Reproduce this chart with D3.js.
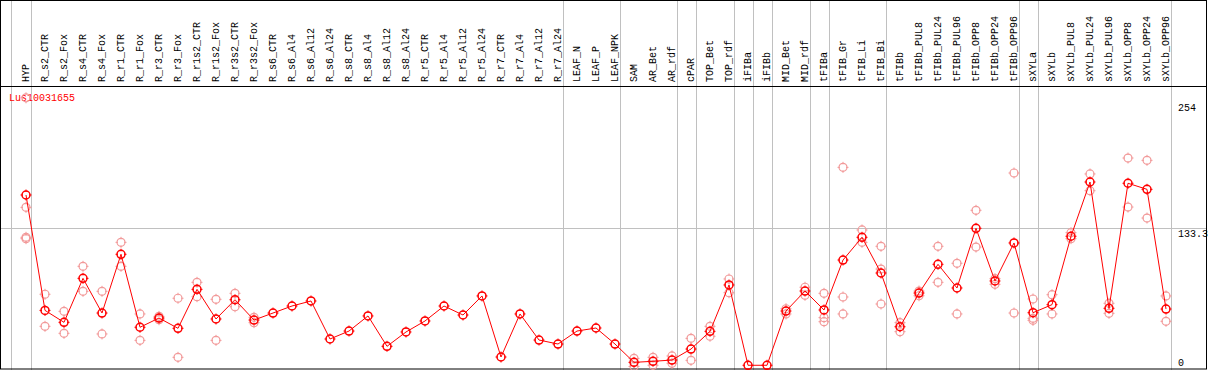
<!DOCTYPE html>
<html>
<head>
<meta charset="utf-8">
<script src="https://cdn.jsdelivr.net/npm/d3@7"></script>
<style>
  body { margin: 0; background: #fff; }
  svg text { font-family: "Liberation Mono", "DejaVu Sans Mono", monospace; font-size: 10px; }
</style>
</head>
<body>
<svg id="chart"></svg>
<script>
// sample names along the x axis
const categories = [
    'HYP', 'R_s2_CTR', 'R_s2_Fox', 'R_s4_CTR', 'R_s4_Fox', 'R_r1_CTR', 'R_r1_Fox',
    'R_r3_CTR', 'R_r3_Fox', 'R_r1s2_CTR', 'R_r1s2_Fox', 'R_r3s2_CTR', 'R_r3s2_Fox',
    'R_s6_CTR', 'R_s6_Al4', 'R_s6_Al12', 'R_s6_Al24', 'R_s8_CTR', 'R_s8_Al4',
    'R_s8_Al12', 'R_s8_Al24', 'R_r5_CTR', 'R_r5_Al4', 'R_r5_Al12', 'R_r5_Al24',
    'R_r7_CTR', 'R_r7_Al4', 'R_r7_Al12', 'R_r7_Al24', 'LEAF_N', 'LEAF_P', 'LEAF_NPK',
    'SAM', 'AR_Bet', 'AR_rdf', 'cPAR', 'TOP_Bet', 'TOP_rdf', 'iFIBa', 'iFIBb',
    'MID_Bet', 'MID_rdf', 'tFIBa', 'tFIB_Gr', 'tFIB_Li', 'tFIB_Bi', 'tFIBb',
    'tFIBb_PUL8', 'tFIBb_PUL24', 'tFIBb_PUL96', 'tFIBb_OPP8', 'tFIBb_OPP24', 'tFIBb_OPP96',
    'sXYLa', 'sXYLb', 'sXYLb_PUL8', 'sXYLb_PUL24', 'sXYLb_PUL96', 'sXYLb_OPP8',
    'sXYLb_OPP24', 'sXYLb_OPP96'
];

// mean expression per sample (dark markers joined by the line)
const meanValues = [
    165.2, 55.0, 43.6, 85.6, 52.5, 108.6, 38.9,
    47.7, 37.9, 75.1, 46.8, 65.2, 45.8,
    52.5, 59.2, 64.0, 27.7, 35.3, 49.7,
    20.7, 34.4, 44.9, 59.2, 50.6, 68.8,
    10.5, 51.6, 26.7, 22.9, 35.3, 38.2, 22.9,
    5.4, 6.4, 7.6, 18.1, 35.0, 79.3, 2.6, 2.6,
    54.4, 73.5, 55.4, 103.1, 124.8, 90.7, 39.4,
    71.6, 99.0, 76.4, 133.4, 83.1, 119.4,
    52.8, 60.5, 125.8, 177.6, 57.0, 176.4,
    170.6, 56.3
];

// single replicates (light markers)
const replicateValues = [
    [258, 153.4, 124.8, 123.5], [70.4, 39.8], [54.1, 33.1], [97.1, 73.2], [73.2, 32.5], [120.0, 97.1], [51.6, 26.4],
    [49.3, 46.1], [66.6, 10.2], [81.8, 68.1], [65.6, 26.4], [71.3, 58.5], [48.4, 43.3],
    [], [], [], [], [], [],
    [], [], [], [], [], [],
    [], [], [], [], [], [], [],
    [9.2, 1.5], [10.2, 2.6], [11.5, 4.5], [28.3, 7.3], [39.8, 30.3], [85.0, 71.9], [], [],
    [56.6, 51.6], [77.1, 69.4], [71.3, 48.1, 44.2], [191.6, 67.8, 51.6], [131.8, 120.0], [116.2, 94.5, 61.1], [43.3, 34.7],
    [73.5, 69.0], [116.2, 81.8], [100.0, 51.6], [150.6, 115.5], [85.3, 79.9], [186.2, 52.5],
    [65.9, 47.4, 45.5], [70.0, 51.6], [129.2, 123.5], [185.3, 169.3], [61.8, 52.2], [200.5, 153.7],
    [198.3, 143.2], [68.8, 44.6]
];

// separators are drawn after these samples
const groupEnds = ['HYP', 'R_r7_Al24', 'LEAF_NPK', 'AR_rdf', 'cPAR', 'TOP_rdf', 'iFIBa', 'iFIBb',
                   'MID_rdf', 'tFIBa', 'tFIB_Bi', 'tFIBb_OPP96', 'sXYLa', 'sXYLb_OPP96'];

const yTicks = [254, 133.3, 0];
const geneName = 'Lus10031655';

const width = 1209;
const height = 370;
const headerBottom = 86;

const svg = d3.select('#chart')
              .attr('width', width)
              .attr('height', height);

const x = d3.scalePoint()
            .domain(categories)
            .range([26, 1166]);

const y = d3.scaleLinear()
            .domain([0, 254])
            .range([368, 102]);

const grey = '#c0c0c0';
const red = '#ff0000';
const pink = '#f29a9a';

// vertical separators (full height, header included)
const sepX = [x(categories[0]) - 15.3].concat(groupEnds.map(c => x(c) + 4.5));
svg.selectAll('.sep')
   .data(sepX)
   .enter()
   .append('line')
   .attr('x1', d => Math.round(d) + 0.5)
   .attr('x2', d => Math.round(d) + 0.5)
   .attr('y1', 0)
   .attr('y2', height)
   .attr('stroke', grey);

// horizontal reference line
svg.append('line')
   .attr('x1', 1)
   .attr('x2', 1206)
   .attr('y1', Math.round(y(133.3)) + 0.5)
   .attr('y2', Math.round(y(133.3)) + 0.5)
   .attr('stroke', grey);

// frame + header divider
svg.append('rect')
   .attr('x', 0.5)
   .attr('y', 0.5)
   .attr('width', 1206)
   .attr('height', 368.5)
   .attr('fill', 'none')
   .attr('stroke', '#000');

svg.append('line')
   .attr('x1', 0)
   .attr('x2', 1207)
   .attr('y1', headerBottom + 0.5)
   .attr('y2', headerBottom + 0.5)
   .attr('stroke', '#000');

// rotated sample labels
svg.selectAll('.lab')
   .data(categories)
   .enter()
   .append('text')
   .attr('transform', d => `translate(${x(d) - 0.5},82)rotate(-90)`)
   .attr('dy', '0.35em')
   .attr('fill', '#000')
   .text(d => d);

// right side value labels
svg.selectAll('.ytick')
   .data(yTicks)
   .enter()
   .append('text')
   .attr('x', 1178)
   .attr('y', d => d === 0 ? 366 : y(d) + 9)
   .attr('fill', '#000')
   .text(d => d);

svg.append('text')
   .attr('x', 9)
   .attr('y', 101)
   .attr('fill', red)
   .text(geneName);

const drawMarker = (g, cx, cy, color, sw) => {
    const r = 4;
    g.append('circle')
     .attr('cx', cx)
     .attr('cy', cy)
     .attr('r', r)
     .attr('fill', 'none')
     .attr('stroke', color)
     .attr('stroke-width', sw);
    [[0, -1], [0, 1], [-1, 0], [1, 0]].forEach(([dx, dy]) => {
        g.append('line')
         .attr('x1', cx + dx * (r - 1))
         .attr('y1', cy + dy * (r - 1))
         .attr('x2', cx + dx * (r + 1.5))
         .attr('y2', cy + dy * (r + 1.5))
         .attr('stroke', color)
         .attr('stroke-width', 1);
    });
};

// replicates
const reps = svg.append('g');
categories.forEach((c, i) => {
    replicateValues[i].forEach(v => drawMarker(reps, x(c), y(v), pink, 1.2));
});

// mean line
const line = d3.line()
               .x((d, i) => x(categories[i]))
               .y(d => y(d));

svg.append('path')
   .datum(meanValues)
   .attr('d', line)
   .attr('fill', 'none')
   .attr('stroke', red)
   .attr('stroke-width', 1);

const means = svg.append('g');
categories.forEach((c, i) => drawMarker(means, x(c), y(meanValues[i]), red, 1.5));
</script>
</body>
</html>
